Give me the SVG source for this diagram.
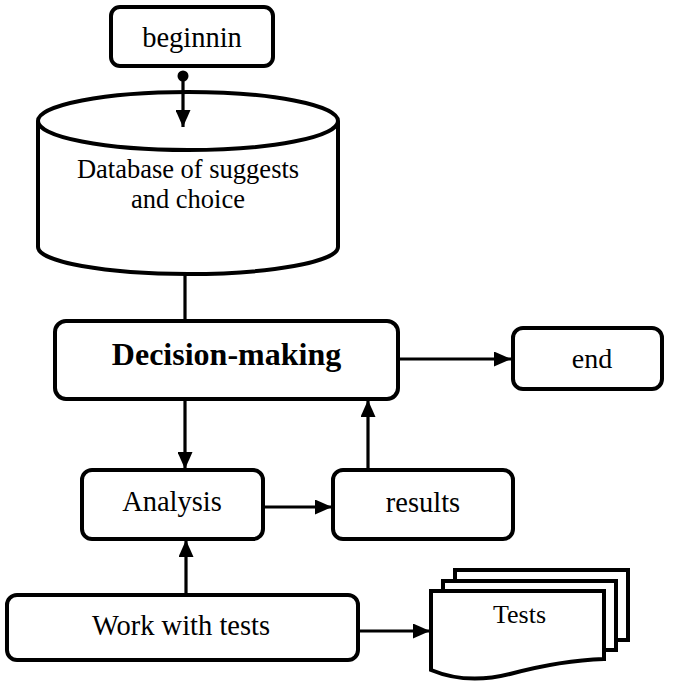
<svg xmlns="http://www.w3.org/2000/svg" width="674" height="681" viewBox="0 0 674 681">
<style>
.box{fill:#fff;stroke:#000;stroke-width:4}
.ln{fill:none;stroke:#000;stroke-width:3.2}
.t{font-family:"Liberation Serif","Times New Roman",serif;fill:#000;text-anchor:middle}
</style>
<defs>
<marker id="ah" markerUnits="userSpaceOnUse" markerWidth="17" markerHeight="15" viewBox="0 0 17 15" refX="17" refY="7.5" orient="auto">
<path d="M0,0 L17,7.5 L0,15 z" fill="#000"/>
</marker>
</defs>
<rect width="674" height="681" fill="#fff"/>
<g id="node-begin">
<rect class="box" x="111" y="7" width="162" height="59" rx="9"/>
<text class="t" x="192" y="47" font-size="28.5">beginnin</text>
</g>
<g id="node-database">
<path class="box" d="M38,121 L38,247 A150,27 0 0 0 338,247 L338,121"/>
<ellipse class="box" cx="188" cy="121" rx="150" ry="29"/>
<text class="t" x="188" y="178" font-size="26.5">Database of suggests</text>
<text class="t" x="188" y="208" font-size="26.5">and choice</text>
</g>
<g id="node-decision">
<rect class="box" x="55" y="321" width="343" height="78" rx="11"/>
<text class="t" x="226.5" y="365" font-size="32" font-weight="bold">Decision-making</text>
</g>
<g id="node-end">
<rect class="box" x="513" y="328" width="149" height="61" rx="10"/>
<text class="t" x="592" y="368" font-size="28">end</text>
</g>
<g id="node-analysis">
<rect class="box" x="82" y="470" width="181" height="69" rx="10"/>
<text class="t" x="172" y="511" font-size="28.5">Analysis</text>
</g>
<g id="node-results">
<rect class="box" x="333" y="470" width="180" height="69" rx="10"/>
<text class="t" x="423" y="512" font-size="28.5">results</text>
</g>
<g id="node-work">
<rect class="box" x="7" y="595" width="351" height="65" rx="10"/>
<text class="t" x="181" y="635" font-size="28.5">Work with tests</text>
</g>
<g id="node-tests">
<path class="box" d="M455,640 L455,570 L628,570 L628,640 Z"/>
<path class="box" d="M443,650 L443,581 L616,581 L616,650 Z"/>
<path class="box" d="M431,670 L431,591 L604,591 L604,659 C570,660 540,666 510,674 C482,681 455,680 431,670 Z"/>
<text class="t" x="519.5" y="623" font-size="26">Tests</text>
</g>
<g id="connectors">
<circle cx="183" cy="76" r="5.5" fill="#000"/>
<line class="ln" x1="183" y1="76" x2="183" y2="127" marker-end="url(#ah)"/>
<line class="ln" x1="185" y1="274" x2="185" y2="321"/>
<line class="ln" x1="398" y1="359" x2="511" y2="359" marker-end="url(#ah)"/>
<line class="ln" x1="185" y1="399" x2="185" y2="469" marker-end="url(#ah)"/>
<line class="ln" x1="368" y1="470" x2="368" y2="400" marker-end="url(#ah)"/>
<line class="ln" x1="263" y1="507" x2="332" y2="507" marker-end="url(#ah)"/>
<line class="ln" x1="186" y1="595" x2="186" y2="540" marker-end="url(#ah)"/>
<line class="ln" x1="358" y1="631" x2="430" y2="631" marker-end="url(#ah)"/>
</g>
</svg>
